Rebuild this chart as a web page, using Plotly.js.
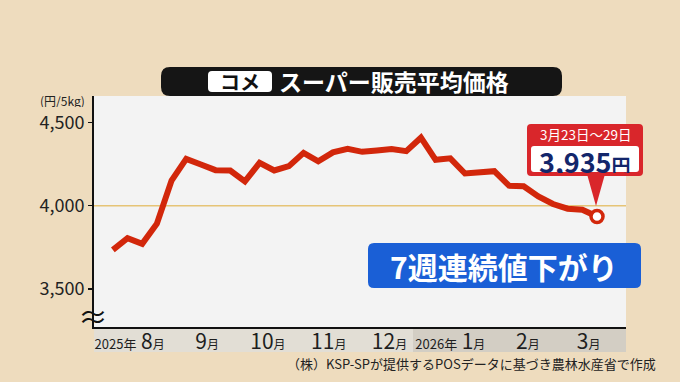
<!DOCTYPE html>
<html><head><meta charset="utf-8">
<script src="https://cdn.plot.ly/plotly-3.0.1.min.js"></script>
<style>html,body{margin:0;padding:0;background:#eedcbe;}</style>
</head><body><div id="chart" style="width:680px;height:382px;"></div>
<script>
// ---- data ----
const weekStart = ['2025-08-04','2025-08-11','2025-08-18','2025-08-25','2025-09-01','2025-09-08','2025-09-15','2025-09-22','2025-09-29',
  '2025-10-06','2025-10-13','2025-10-20','2025-10-27','2025-11-03','2025-11-10','2025-11-17','2025-11-24',
  '2025-12-01','2025-12-08','2025-12-15','2025-12-22','2025-12-29','2026-01-05','2026-01-12','2026-01-19','2026-01-26',
  '2026-02-02','2026-02-09','2026-02-16','2026-02-23','2026-03-02','2026-03-09','2026-03-16','2026-03-23'];
const priceYen = [3735,3805,3771,3892,4151,4281,4247,4213,4211,4146,4257,4211,4237,4317,4266,4320,4341,
  4323,4331,4340,4327,4408,4275,4284,4193,4199,4207,4120,4116,4055,4010,3982,3976,3935];
const xTickDates = ['2025-08-12','2025-09-18','2025-10-17','2025-11-15','2025-12-14','2026-01-12','2026-02-18','2026-03-19'];
const xTickYears = ['2025年','','','','','2026年','',''];
const xTickMonths = ['8','9','10','11','12','1','2','3'];
const yTickValues = [3500,4000,4500];
const yUnit = '(円/5kg)';
const titleTag = 'コメ';
const titleText = 'スーパー販売平均価格';
const latestPeriod = '3月23日〜29日';
const latestPriceText = '3,935';
const badgeText = '7週連続値下がり';
const sourceText = '（株）KSP-SPが提供するPOSデータに基づき農林水産省で作成';

// ---- geometry helpers (pixel -> paper) ----
const L = 94, R = 626, T = 96, B = 327;
const px = x => (x - L) / (R - L);
const py = y => (B - y) / (B - T);
function pt(x, y) { return px(x).toFixed(5) + ',' + py(y).toFixed(5); }
function rrect(x0, y0, x1, y1, r) {
  return 'M' + pt(x0 + r, y0) + ' L' + pt(x1 - r, y0) + ' Q' + pt(x1, y0) + ' ' + pt(x1, y0 + r) +
    ' L' + pt(x1, y1 - r) + ' Q' + pt(x1, y1) + ' ' + pt(x1 - r, y1) +
    ' L' + pt(x0 + r, y1) + ' Q' + pt(x0, y1) + ' ' + pt(x0, y1 - r) +
    ' L' + pt(x0, y0 + r) + ' Q' + pt(x0, y0) + ' ' + pt(x0 + r, y0) + ' Z';
}
function pshape(path, color, layer) {
  return {type: 'path', xref: 'paper', yref: 'paper', path: path, fillcolor: color, line: {width: 0}, layer: layer || 'above'};
}
function ann(x, y, text, size, color, extra) {
  return Object.assign({xref: 'paper', yref: 'paper', x: px(x), y: py(y), text: text, showarrow: false,
    xanchor: 'center', yanchor: 'middle', font: {size: size, color: color, family: FONT}}, extra || {});
}
const FONT = '"Noto Sans CJK JP", "Noto Sans", sans-serif';
const RED = '#d2270b';

const tickText = xTickMonths.map((m, i) =>
  (xTickYears[i] ? '<span style="font-size:13px">' + xTickYears[i] + '</span> ' : '') +
  '<span style="font-size:21px">' + m + '</span><span style="font-size:12px">月</span>');

const lastIdx = weekStart.length - 1;
const traces = [
  {type: 'scatter', mode: 'lines', x: weekStart, y: priceYen,
   line: {color: RED, width: 6}, hoverinfo: 'skip'},
  {type: 'scatter', mode: 'markers', x: [weekStart[lastIdx]], y: [priceYen[lastIdx]],
   marker: {size: 12, color: '#ffffff', line: {color: RED, width: 3.5}}, hoverinfo: 'skip'}
];

const shapes = [
  // x-axis label band
  {type: 'rect', xref: 'paper', yref: 'paper', x0: 0, x1: px(413), y0: py(329), y1: py(352), fillcolor: '#e2ded5', line: {width: 0}, layer: 'below'},
  {type: 'rect', xref: 'paper', yref: 'paper', x0: px(413), x1: 1, y0: py(329), y1: py(352), fillcolor: '#d3cec4', line: {width: 0}, layer: 'below'},
  // 4000 reference line
  {type: 'line', xref: 'paper', yref: 'y', x0: 0, x1: 1, y0: 4000, y1: 4000, line: {color: '#e6c476', width: 1.5}, layer: 'below'},
  // title bar
  pshape(rrect(161, 67, 562, 96, 9), '#151515'),
  pshape(rrect(208, 71, 272, 92, 4), '#ffffff'),
  // callout
  pshape('M' + pt(587, 174) + ' L' + pt(605, 174) + ' L' + pt(596, 206) + ' Z', '#d9262b'),
  pshape(rrect(527, 124, 643, 176, 4), '#d9262b'),
  pshape(rrect(531, 146, 639, 172, 3), '#ffffff'),
  // badge
  pshape(rrect(368, 243, 641, 288, 6), '#1a5fd6')
];

const annotations = [
  ann(240, 81.5, '<b>' + titleTag + '</b>', 20, '#111111'),
  ann(394, 81.5, '<b>' + titleText + '</b>', 23, '#ffffff'),
  ann(62, 100, yUnit, 12, '#222222', {height: 13}),
  ann(93, 315, '≈', 30, '#111111'),
  ann(585, 133.5, latestPeriod, 13.5, '#ffffff', {height: 16}),
  ann(585, 160.5, '<b>' + latestPriceText + '</b><span style="font-size:19px"><b>円</b></span>', 27, '#13266b', {height: 24}),
  ann(504, 265.5, '<b>' + badgeText + '</b>', 30, '#ffffff'),
  ann(471, 363, sourceText, 13, '#222222')
];

const layout = {
  width: 680, height: 382,
  margin: {l: L, r: 680 - R, t: T, b: 382 - B, pad: 0},
  paper_bgcolor: '#eedcbe', plot_bgcolor: '#f3f3f3',
  showlegend: false,
  separators: '.,',
  font: {family: FONT, color: '#222222'},
  xaxis: {type: 'date', range: ['2025-07-26', '2026-04-05 20:00'], showgrid: false, zeroline: false,
    showline: true, linecolor: '#111111', linewidth: 2, ticks: '', ticklabelstandoff: -4,
    tickmode: 'array', tickvals: xTickDates, ticktext: tickText,
    tickfont: {size: 20, color: '#1e1e1e', family: FONT}, fixedrange: true},
  yaxis: {range: [3272, 4658], showgrid: false, zeroline: false,
    showline: true, linecolor: '#111111', linewidth: 2,
    ticks: 'outside', ticklen: 4, tickwidth: 1.5, tickcolor: '#111111',
    tickmode: 'array', tickvals: yTickValues, tickformat: ',d',
    tickfont: {size: 18, color: '#222222', family: FONT}, fixedrange: true},
  shapes: shapes,
  annotations: annotations
};

Plotly.newPlot('chart', traces, layout, {displayModeBar: false, staticPlot: true});
</script>
</body></html>
